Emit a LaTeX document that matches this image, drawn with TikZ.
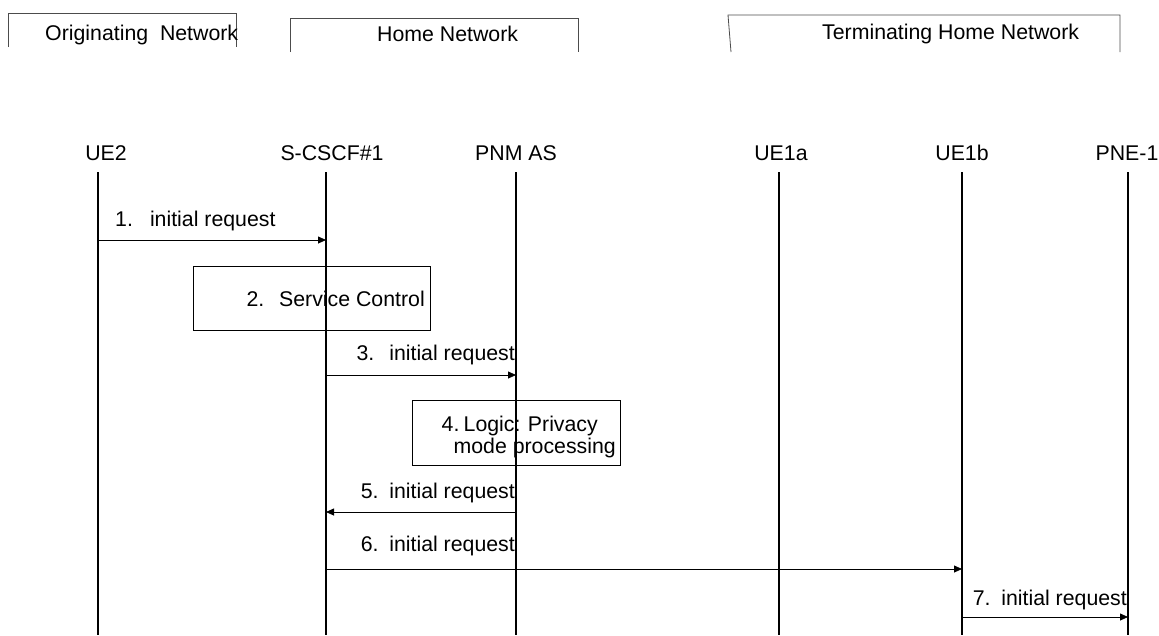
\documentclass[tikz,border=0pt]{standalone}
\usepackage{fontspec}
\setmainfont{Liberation Sans}
\usetikzlibrary{arrows.meta}
\begin{document}
\begin{tikzpicture}[x=1pt,y=-1pt,
  txt/.style={inner sep=0pt,font=\fontsize{21.3}{25}\selectfont},
  life/.style={line width=1.6pt},
  msg/.style={line width=0.8pt,-{Triangle[length=8pt,width=7pt]}},
  bracket/.style={line width=0.8pt,draw=black!70},
  procbox/.style={draw,line width=0.8pt}]
\useasboundingbox (0,0) rectangle (1159,635);
% network brackets
\draw[bracket] (8,47) -- (8,13) -- (236,13) -- (236,47);
\draw[bracket] (290,52) -- (290,18) -- (578,18) -- (578,52);
\draw[bracket] (731,52) -- (728,15) -- (1120,15) -- (1120,52);
\node[txt,anchor=base west] (on) at (45,40) {Originating\ \ Network};
\node[txt,anchor=base west] (hn) at (377,41) {Home Network};
\node[txt,anchor=base west] (tn) at (822,39) {Terminating Home Network};
% lifeline heads
\node[txt,anchor=base] (ue2) at (106,160) {UE2};
\node[txt,anchor=base] (scscf) at (332,160) {S-CSCF\#1};
\node[txt,anchor=base] (pnm) at (516,160) {PNM AS};
\node[txt,anchor=base] (ue1a) at (781,160) {UE1a};
\node[txt,anchor=base] (ue1b) at (962,160) {UE1b};
\node[txt,anchor=base] (pne) at (1127,160) {PNE-1};
% lifelines
\foreach \n/\x in {ue2/98,scscf/326,pnm/516,ue1a/779,ue1b/962,pne/1128}{
  \coordinate (\n top) at (\x,172);
  \coordinate (\n bot) at (\x,635);
  \draw[life] (\n top) -- (\n bot);
  \foreach \m/\y in {1/240,3/375,5/512,6/569,7/617}{
    \coordinate (\n m\m) at (\x,\y);
  }
}
% boxes
\node[procbox,minimum width=237pt,minimum height=64pt,anchor=north west,inner sep=0pt] (b2) at (193,266) {};
\node[procbox,minimum width=208pt,minimum height=65pt,anchor=north west,inner sep=0pt] (b4) at (412,400) {};
\node[txt,anchor=base east] (t2) at (425,306) {2.\hspace{0.7em}Service Control};
\node[txt,anchor=base east] (t4a) at (598,431) {4.\hspace{0.2em}Logic:\hspace{0.35em}Privacy};
\node[txt,anchor=base east] (t4b) at (616,453) {mode processing};
% messages
\draw[msg] (ue2m1) -- (scscfm1);
\node[txt,anchor=base west] (l1) at (115,226) {1.\hspace{0.8em}initial request};
\draw[msg] (scscfm3) -- (pnmm3);
\node[txt,anchor=base east] (l3) at (515,360) {3.\hspace{0.7em}initial request};
\draw[msg] (pnmm5) -- (scscfm5);
\node[txt,anchor=base east] (l5) at (515,498) {5.\hspace{0.5em}initial request};
\draw[msg] (scscfm6) -- (ue1bm6);
\node[txt,anchor=base east] (l6) at (515,551) {6.\hspace{0.5em}initial request};
\draw[msg] (ue1bm7) -- (pnem7);
\node[txt,anchor=base east] (l7) at (1127,605) {7.\hspace{0.5em}initial request};
\end{tikzpicture}
\end{document}
